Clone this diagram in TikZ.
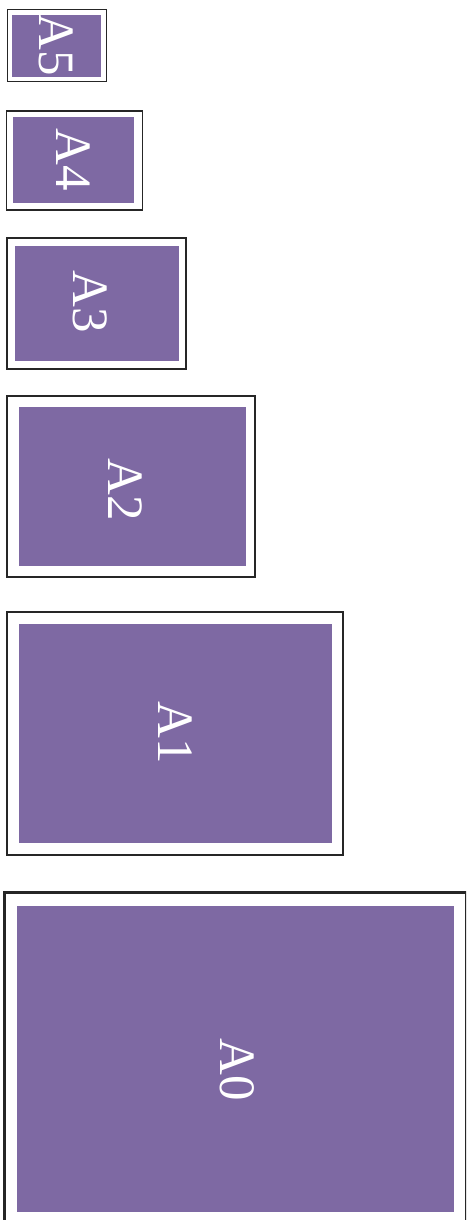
\documentclass[tikz,border=0pt]{standalone}
\usepackage{fontspec}
\setmainfont{Liberation Serif}
\definecolor{sheetpurple}{RGB}{126,105,163}

\begin{document}
\begin{tikzpicture}[
  x=1pt,y=-1pt,
  frame/.style={draw=black!85},
  sheet/.style={fill=sheetpurple},
  size/.style={text=white,rotate=-90,inner sep=0pt,font=\fontsize{51}{51}\selectfont}
]
\useasboundingbox (0,0) rectangle (466,1220);
\clip (0,0) rectangle (466,1220);

% ---- paper sizes, smallest on top ----
\foreach \n/\xa/\ya/\xb/\yb/\w/\ia/\ja/\ib/\jb/\tx/\ty in {
    A5/7.3/10/106.7/82/1.0/12.3/15/100.7/77.3/56/45,
    A4/6.7/111/142.3/210/1.3/12.7/117.3/134.3/202.7/73.5/160,
    A3/7.3/238/186/369.3/1.7/15/245.7/179/360.7/90/302,
    A2/7.3/396/255/576.7/2.0/19/406.7/246/565.7/125.5/489.5,
    A1/7.3/612/343.3/855/2.3/19/624/332/842.7/175/733,
    A0/4.3/892.7/466.5/1224/2.7/16.7/905.7/454/1212/237/1070}
{
  \draw[frame,line width=\w pt] (\xa,\ya) rectangle (\xb,\yb);
  \fill[sheet] (\ia,\ja) rectangle (\ib,\jb);
  \node[size] (\n) at (\tx,\ty) {\n};
}

\end{tikzpicture}
\end{document}
